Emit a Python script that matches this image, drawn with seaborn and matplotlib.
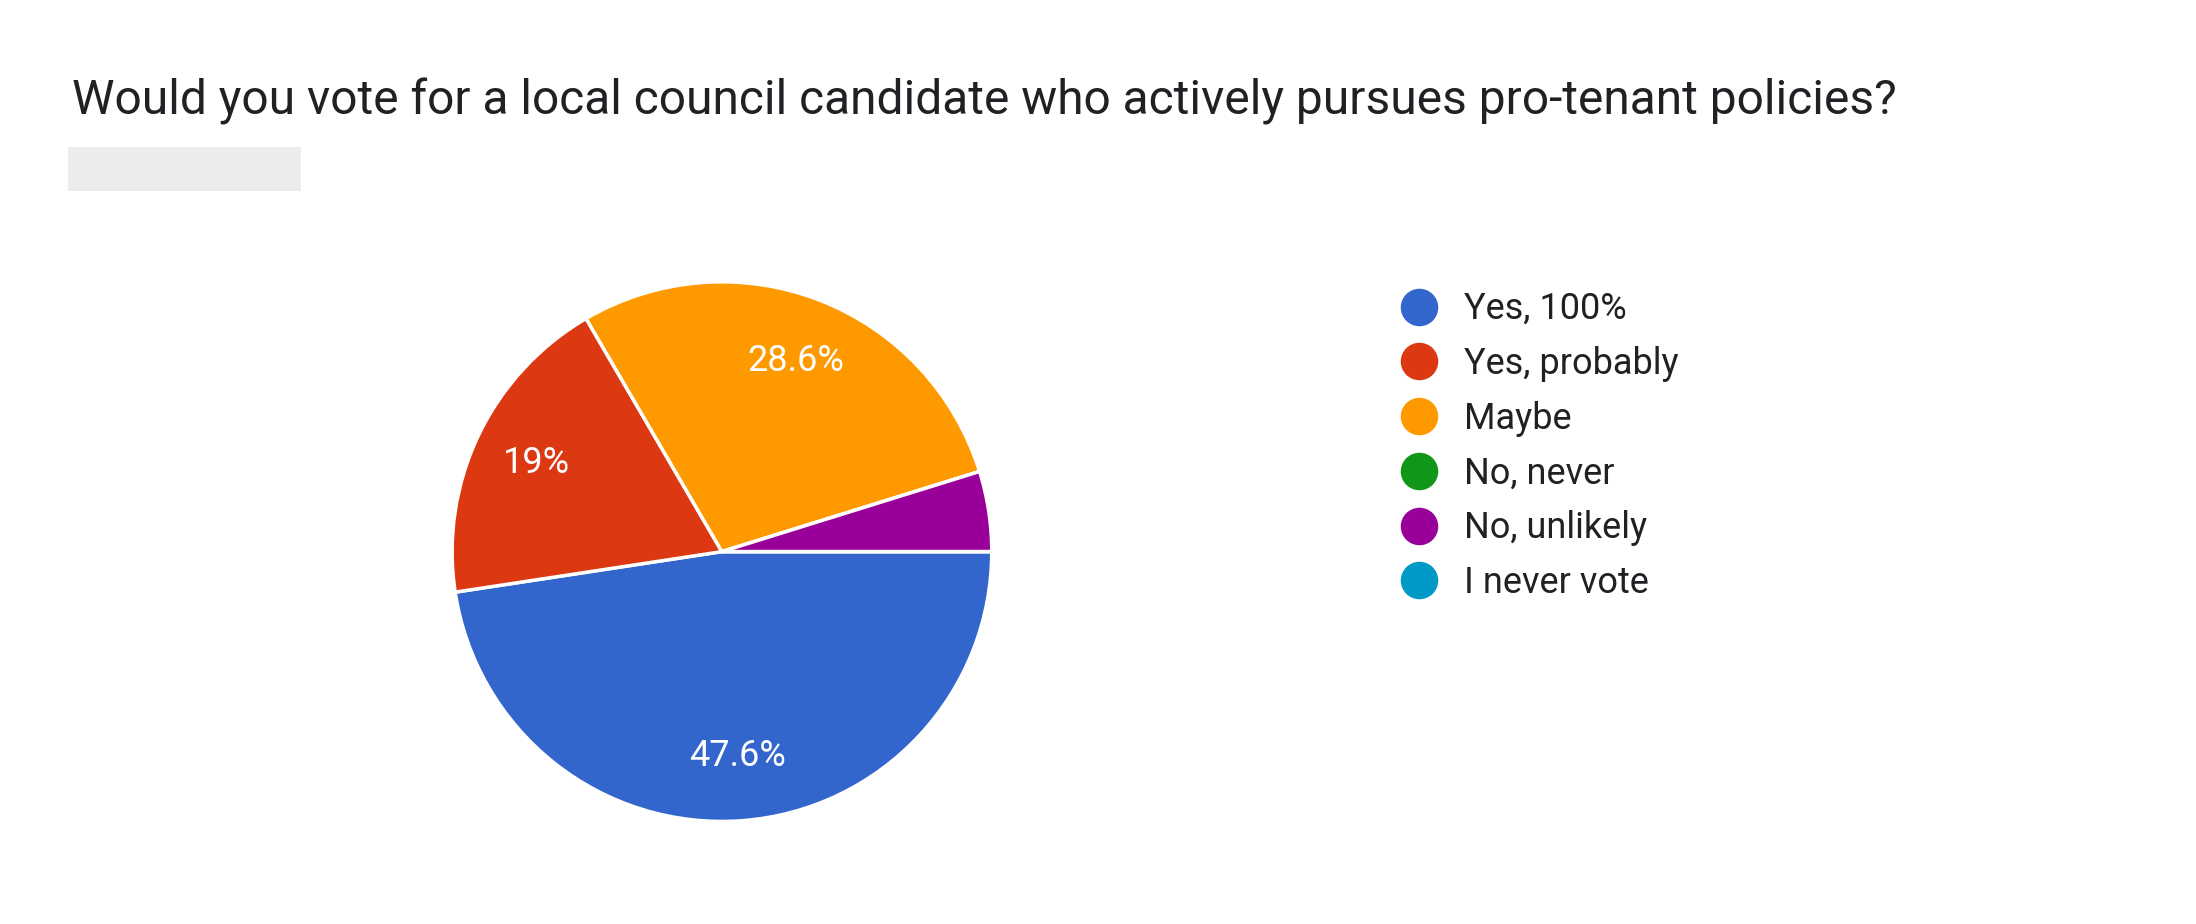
import matplotlib.pyplot as plt
import seaborn as sns
from matplotlib.lines import Line2D
from matplotlib.patches import Rectangle

sns.set_theme(style="white")
plt.rcParams["font.family"] = ["Roboto", "DejaVu Sans"]

TITLE = "Would you vote for a local council candidate who actively pursues pro-tenant policies?"
categories = ["Yes, 100%", "Yes, probably", "Maybe", "No, never", "No, unlikely", "I never vote"]
shares = [47.6, 19.0, 28.6, 0.0, 4.8, 0.0]
colors = ["#3366cc", "#dc3912", "#ff9900", "#109618", "#990099", "#0099c6"]


def fmt_pct(p):
    if p < 5:
        return ""
    return f"{p:.1f}".rstrip("0").rstrip(".") + "%"


fig = plt.figure(figsize=(21.96, 9.24), dpi=100)
fig.patch.set_facecolor("white")
fig.text(0.033, 0.89, TITLE, fontsize=34.5, color="#202124", va="center", ha="left")
# blurred placeholder under the title
fig.patches.append(Rectangle((0.031, 0.793), 0.106, 0.048, transform=fig.transFigure,
                             facecolor="#ececec", edgecolor="none"))

ax = fig.add_axes([0.175, 0.038, 0.3075, 0.730])
ax.pie(shares, colors=colors, startangle=0, counterclock=False,
       autopct=fmt_pct, pctdistance=0.76,
       wedgeprops=dict(edgecolor="white", linewidth=2.5),
       textprops=dict(color="white", fontsize=26))
ax.set_aspect("equal")

handles = [Line2D([], [], marker="o", linestyle="none", markersize=26,
                  markerfacecolor=c, markeredgecolor=c) for c in colors]
fig.legend(handles, categories, loc="upper left", bbox_to_anchor=(0.615, 0.72),
           frameon=False, fontsize=26, labelspacing=0.52, handletextpad=0.25,
           labelcolor="#202124")

fig.savefig("out.png", dpi=100, facecolor="white")
